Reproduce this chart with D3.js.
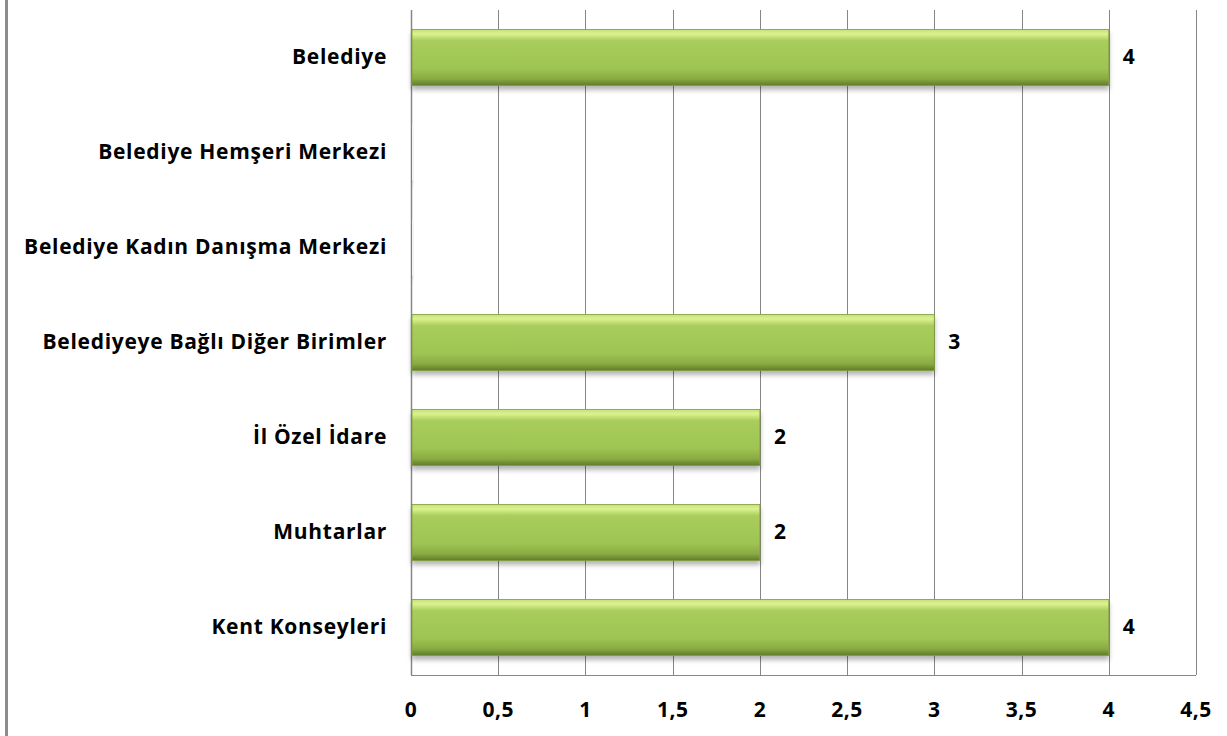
<!DOCTYPE html>
<html>
<head>
<meta charset="utf-8">
<script src="https://cdn.jsdelivr.net/npm/d3@7"></script>
<style>
body { margin: 0; background: #fff; }
text { font-family: "Open Sans", Lato, sans-serif; font-weight: bold; fill: #000; }
</style>
</head>
<body>
<svg id="myGraph"></svg>
<script>
var categories = ["Belediye", "Belediye Hemşeri Merkezi", "Belediye Kadın Danışma Merkezi",
    "Belediyeye Bağlı Diğer Birimler", "İl Özel İdare", "Muhtarlar", "Kent Konseyleri"];
var values = [4, 0, 0, 3, 2, 2, 4];
var ticks = [0, 0.5, 1, 1.5, 2, 2.5, 3, 3.5, 4, 4.5];

var width = 1227;
var height = 736;
var plotLeft = 411, plotRight = 1196, plotTop = 10, plotBottom = 675;

var rows = categories.map(function(c, i) { return {name: c, value: values[i]}; });

var svg = d3.select("#myGraph")
    .attr("width", width)
    .attr("height", height);

var defs = svg.append("defs");
var grad = defs.append("linearGradient").attr("id", "barGrad")
    .attr("x1", 0).attr("y1", 0).attr("x2", 0).attr("y2", 1);
grad.append("stop").attr("offset", "0%").attr("stop-color", "#c4e07a");
grad.append("stop").attr("offset", "8%").attr("stop-color", "#dcf290");
grad.append("stop").attr("offset", "20%").attr("stop-color", "#a9cd5c");
grad.append("stop").attr("offset", "70%").attr("stop-color", "#9ec453");
grad.append("stop").attr("offset", "88%").attr("stop-color", "#89ab42");
grad.append("stop").attr("offset", "100%").attr("stop-color", "#5f7b2b");

var shadow = defs.append("filter").attr("id", "shadow")
    .attr("x", "-5%").attr("y", "-10%").attr("width", "110%").attr("height", "140%");
shadow.append("feGaussianBlur").attr("in", "SourceAlpha").attr("stdDeviation", 2.5);
shadow.append("feOffset").attr("dx", 0).attr("dy", 4).attr("result", "b");
shadow.append("feComponentTransfer").append("feFuncA").attr("type", "linear").attr("slope", 0.3);
var merge = shadow.append("feMerge");
merge.append("feMergeNode");
merge.append("feMergeNode").attr("in", "SourceGraphic");

// left border of the chart area
svg.append("rect").attr("x", 5).attr("y", 0).attr("width", 3).attr("height", height)
    .attr("fill", "#8c8c8c");

var x = d3.scaleLinear().domain([0, 4.5]).range([plotLeft, plotRight]);
var y = d3.scaleBand().domain(categories).range([plotTop, plotBottom]).paddingInner(0.41).paddingOuter(0.205);

// gridlines
svg.append("g").selectAll("line")
    .data(ticks)
    .enter().append("line")
    .attr("x1", function(d) { return Math.round(x(d)) + 0.5; })
    .attr("x2", function(d) { return Math.round(x(d)) + 0.5; })
    .attr("y1", plotTop)
    .attr("y2", plotBottom)
    .attr("stroke", "#868686")
    .attr("stroke-width", 1);

svg.append("line")
    .attr("x1", plotLeft).attr("x2", plotRight)
    .attr("y1", plotBottom + 0.5).attr("y2", plotBottom + 0.5)
    .attr("stroke", "#868686");
svg.append("line")
    .attr("x1", x(0) + 0.5).attr("x2", x(0) + 0.5)
    .attr("y1", plotTop).attr("y2", plotBottom)
    .attr("stroke", "#868686").attr("stroke-width", 1.5);

// bars
svg.append("g").selectAll("rect")
    .data(rows)
    .enter().append("rect")
    .attr("x", x(0) + 1)
    .attr("y", function(d) { return y(d.name); })
    .attr("width", function(d) { return Math.max(x(d.value) - x(0) - 1, 1.5); })
    .attr("height", y.bandwidth())
    .attr("fill", function(d) { return d.value > 0 ? "url(#barGrad)" : "#f2f2f2"; })
    .attr("stroke", function(d) { return d.value > 0 ? "#7f9c3a" : "none"; })
    .attr("stroke-width", 0.8)
    .attr("filter", "url(#shadow)");

// value labels
svg.append("g").selectAll("text")
    .data(rows.filter(function(d) { return d.value > 0; }))
    .enter().append("text")
    .attr("x", function(d) { return x(d.value) + 14; })
    .attr("y", function(d) { return y(d.name) + y.bandwidth() / 2; })
    .attr("dy", "0.32em")
    .attr("font-size", 21)
    .text(function(d) { return d.value; });

// category labels
svg.append("g").selectAll("text")
    .data(categories)
    .enter().append("text")
    .attr("x", 387)
    .attr("y", function(d) { return y(d) + y.bandwidth() / 2; })
    .attr("dy", "0.32em")
    .attr("text-anchor", "end")
    .attr("font-size", 21)
    .attr("letter-spacing", 0.7)
    .text(function(d) { return d; });

// x tick labels
svg.append("g").selectAll("text")
    .data(ticks)
    .enter().append("text")
    .attr("x", function(d) { return x(d); })
    .attr("y", 717)
    .attr("text-anchor", "middle")
    .attr("font-size", 21)
    .attr("letter-spacing", 0.5)
    .text(function(d) { return String(d).replace(".", ","); });
</script>
</body>
</html>
